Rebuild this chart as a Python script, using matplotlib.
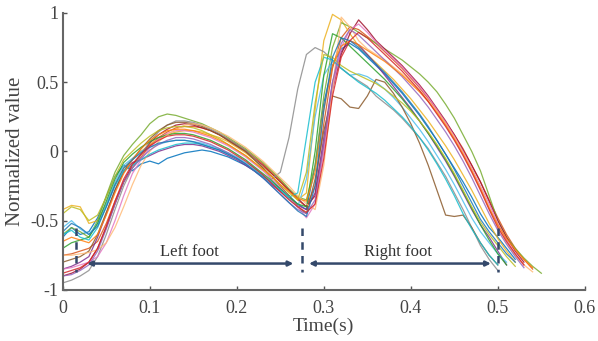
import numpy as np
import matplotlib
matplotlib.use("Agg")
import matplotlib.pyplot as plt

plt.rcParams['font.family'] = ['Liberation Serif', 'DejaVu Serif']
plt.rcParams['axes.unicode_minus'] = False

# sampling grid of the recorded curves (s)
time_grid = np.round(np.arange(0, 0.56, 0.01), 2)

# normalized curves, one list per trial (value at each 0.01 s step)
trial_01 = [-0.62,-0.55,-0.60,-0.58, -0.48,-0.33,-0.18,-0.10,-0.14,
            -0.09,-0.07,-0.09,-0.05,-0.03,-0.01,0.00,0.01,0.00,-0.02,-0.04,-0.07,
            -0.10,-0.14,-0.18,-0.22,-0.27,-0.32,-0.38,-0.42,
            -0.10,0.35,0.62,0.74,0.78,0.74,0.68,
            0.62,0.56,0.49,0.42,0.34,0.26,0.17,0.08,-0.02,-0.12,-0.22,-0.33,-0.45,-0.55,-0.62,-0.70,-0.78]
trial_02 = [-0.75,-0.74,-0.72,-0.70, -0.65,-0.52,-0.36,-0.22,-0.12,
            -0.04,0.04,0.10,0.14,0.17,0.18,0.18,0.17,0.15,0.12,0.09,0.05,
            0.01,-0.04,-0.09,-0.15,-0.21,-0.28,-0.35,-0.40,
            -0.25,0.20,0.60,0.82,0.90,0.88,0.83,
            0.78,0.72,0.66,0.60,0.53,0.46,0.38,0.30,0.21,0.12,0.02,-0.10,-0.22,-0.35,-0.48,-0.60,-0.70,-0.78,-0.85]
trial_03 = [-0.42,-0.39,-0.40,-0.52, -0.50,-0.38,-0.24,-0.12,-0.06,
            0.00,0.05,0.09,0.12,0.14,0.15,0.15,0.14,0.12,0.10,0.07,0.03,
            -0.01,-0.06,-0.11,-0.16,-0.22,-0.28,-0.35,-0.30,
            0.30,0.80,0.99,0.95,0.85,0.76,0.70,
            0.64,0.58,0.52,0.45,0.38,0.30,0.22,0.13,0.04,-0.06,-0.17,-0.28,-0.40,-0.52,-0.63,-0.72,-0.80]
trial_04 = [-0.85,-0.83,-0.80,-0.76, -0.62,-0.45,-0.28,-0.15,-0.08,
            -0.06,-0.03,0.00,0.02,0.04,0.05,0.05,0.04,0.02,0.00,-0.03,-0.06,
            -0.10,-0.14,-0.19,-0.24,-0.29,-0.34,-0.39,-0.42,
            -0.30,0.10,0.50,0.72,0.80,0.77,0.70,
            0.63,0.55,0.47,0.39,0.31,0.22,0.13,0.03,-0.07,-0.18,-0.30,-0.42,-0.53,-0.62,-0.72,-0.82]
trial_05 = [-0.60,-0.55,-0.58,-0.62, -0.50,-0.32,-0.15,-0.03,0.05,
            0.12,0.20,0.25,0.27,0.26,0.24,0.22,0.20,0.17,0.14,0.10,0.06,
            0.02,-0.03,-0.08,-0.14,-0.20,-0.27,-0.33,-0.35,
            -0.10,0.40,0.75,0.93,0.90,0.86,0.82,
            0.78,0.74,0.70,0.66,0.61,0.56,0.50,0.43,0.34,0.24,0.12,0.00,-0.14,-0.32,-0.50,-0.62,-0.70,-0.77,-0.83,-0.88]
trial_06 = [-0.55,-0.50,-0.56,-0.60, -0.52,-0.38,-0.22,-0.10,-0.05,
            0.00,0.03,0.05,0.07,0.08,0.08,0.07,0.06,0.04,0.02,-0.01,-0.04,
            -0.08,-0.12,-0.17,-0.22,-0.28,-0.34,-0.40,-0.20,
            0.25,0.55,0.65,0.60,0.55,0.56,0.54,
            0.50,0.45,0.39,0.32,0.24,0.16,0.07,-0.03,-0.13,-0.24,-0.36,-0.48,-0.58,-0.66,-0.74,-0.80]
trial_07 = [-0.90,-0.88,-0.85,-0.80, -0.70,-0.55,-0.38,-0.22,-0.10,
            -0.02,0.06,0.12,0.16,0.19,0.20,0.19,0.17,0.15,0.12,0.08,0.04,
            0.00,-0.05,-0.10,-0.16,-0.22,-0.28,-0.34,-0.40,
            -0.32,0.05,0.45,0.70,0.85,0.95,0.88,
            0.80,0.74,0.68,0.62,0.55,0.48,0.40,0.31,0.22,0.12,0.01,-0.10,-0.22,-0.36,-0.50,-0.62,-0.72,-0.80]
trial_08 = [-0.95,-0.93,-0.90,-0.86, -0.76,-0.60,-0.42,-0.25,-0.12,
            -0.02,0.07,0.14,0.19,0.22,0.22,0.21,0.19,0.16,0.13,0.09,0.05,
            0.01,-0.05,-0.12,-0.20,-0.15,0.10,0.45,0.70,
            0.75,0.72,0.66,0.60,0.55,0.51,0.47,
            0.40,0.35,0.30,0.24,0.17,0.10,0.02,-0.08,-0.18,-0.30,-0.42,-0.55,-0.68,-0.78,-0.86]
trial_09 = [-0.80,-0.78,-0.76,-0.72, -0.60,-0.44,-0.28,-0.14,-0.06,
            0.02,0.09,0.15,0.19,0.21,0.21,0.20,0.18,0.15,0.12,0.08,0.04,
            0.00,-0.06,-0.12,-0.18,-0.25,-0.32,-0.40,-0.45,
            -0.20,0.15,0.40,0.38,0.32,0.31,0.40,
            0.52,0.50,0.42,0.32,0.20,0.06,-0.10,-0.28,-0.46,-0.47,-0.46,-0.55,-0.66,-0.75,-0.82]
trial_10 = [-0.85,-0.84,-0.82,-0.80, -0.76,-0.66,-0.50,-0.32,-0.16,
            -0.06,0.03,0.09,0.13,0.15,0.15,0.14,0.12,0.10,0.07,0.04,0.00,
            -0.04,-0.09,-0.14,-0.20,-0.26,-0.33,-0.40,-0.48,
            -0.38,0.00,0.45,0.75,0.88,0.92,0.86,
            0.79,0.73,0.67,0.61,0.54,0.47,0.39,0.30,0.21,0.11,0.00,-0.12,-0.25,-0.38,-0.52,-0.64,-0.74,-0.82]
trial_11 = [-0.70,-0.66,-0.64,-0.62, -0.52,-0.36,-0.20,-0.08,-0.02,
            0.03,0.07,0.10,0.12,0.13,0.13,0.12,0.10,0.08,0.05,0.02,-0.02,
            -0.06,-0.11,-0.16,-0.21,-0.27,-0.33,-0.38,-0.40,
            0.00,0.55,0.85,0.82,0.76,0.70,0.64,
            0.58,0.52,0.45,0.38,0.30,0.22,0.13,0.04,-0.06,-0.17,-0.29,-0.41,-0.53,-0.64,-0.74,-0.82]
trial_12 = [-0.75,-0.75,-0.74,-0.73, -0.71,-0.66,-0.55,-0.40,-0.24,
            -0.10,0.00,0.07,0.12,0.16,0.19,0.20,0.19,0.17,0.14,0.11,0.07,
            0.03,-0.02,-0.07,-0.13,-0.19,-0.25,-0.32,-0.38,
            -0.42,-0.10,0.45,0.97,0.90,0.80,0.74,
            0.70,0.66,0.61,0.56,0.50,0.44,0.37,0.29,0.20,0.10,-0.01,-0.13,-0.26,-0.40,-0.54,-0.66,-0.75,-0.82,-0.87]
trial_13 = [-0.60,-0.57,-0.62,-0.64, -0.55,-0.40,-0.25,-0.14,-0.10,
            -0.06,-0.02,0.01,0.03,0.05,0.06,0.06,0.05,0.03,0.01,-0.02,-0.05,
            -0.09,-0.13,-0.18,-0.23,-0.28,-0.33,-0.30,0.10,
            0.50,0.68,0.66,0.60,0.55,0.50,0.46,
            0.42,0.37,0.31,0.25,0.18,0.10,0.01,-0.09,-0.20,-0.32,-0.45,-0.56,-0.66,-0.75,-0.82]
trial_14 = [-0.45,-0.40,-0.42,-0.50, -0.46,-0.33,-0.18,-0.06,0.00,
            0.06,0.11,0.15,0.17,0.18,0.18,0.17,0.15,0.12,0.09,0.05,0.01,
            -0.03,-0.08,-0.13,-0.18,-0.24,-0.30,-0.35,-0.15,
            0.35,0.70,0.68,0.62,0.58,0.55,0.52,
            0.49,0.45,0.40,0.35,0.29,0.22,0.14,0.05,-0.05,-0.16,-0.28,-0.40,-0.51,-0.60,-0.68,-0.76,-0.83]
trial_15 = [-0.90,-0.89,-0.86,-0.82, -0.72,-0.56,-0.38,-0.22,-0.12,
            -0.05,0.01,0.05,0.08,0.10,0.10,0.09,0.07,0.05,0.02,-0.01,-0.05,
            -0.09,-0.14,-0.19,-0.25,-0.31,-0.37,-0.42,-0.45,
            -0.35,0.05,0.50,0.78,0.88,0.84,0.78,
            0.72,0.66,0.60,0.54,0.47,0.40,0.32,0.23,0.14,0.04,-0.07,-0.19,-0.32,-0.45,-0.57,-0.67,-0.76,-0.84]
trial_16 = [-0.65,-0.62,-0.64,-0.66, -0.60,-0.46,-0.30,-0.16,-0.06,
            0.02,0.08,0.12,0.15,0.16,0.16,0.15,0.13,0.11,0.08,0.05,0.01,
            -0.03,-0.08,-0.13,-0.18,-0.24,-0.29,-0.34,-0.36,
            -0.15,0.30,0.62,0.76,0.80,0.77,0.73,
            0.69,0.65,0.60,0.55,0.49,0.43,0.36,0.28,0.19,0.09,-0.02,-0.14,-0.27,-0.41,-0.53,-0.63,-0.71,-0.78,-0.84]
trial_17 = [-0.58,-0.52,-0.55,-0.60, -0.54,-0.40,-0.24,-0.12,-0.06,
            -0.01,0.03,0.06,0.07,0.08,0.08,0.07,0.05,0.03,0.01,-0.02,-0.05,
            -0.09,-0.14,-0.19,-0.25,-0.31,-0.37,-0.43,-0.47,
            -0.25,0.30,0.68,0.82,0.80,0.75,0.69,
            0.63,0.57,0.50,0.43,0.35,0.27,0.18,0.08,-0.02,-0.13,-0.25,-0.37,-0.49,-0.58,-0.66,-0.74,-0.80]
trial_18 = [-0.88,-0.86,-0.84,-0.80, -0.70,-0.54,-0.36,-0.20,-0.09,
            -0.02,0.04,0.08,0.11,0.12,0.12,0.11,0.09,0.07,0.04,0.01,-0.03,
            -0.07,-0.12,-0.17,-0.23,-0.29,-0.35,-0.40,-0.44,
            -0.38,-0.05,0.40,0.68,0.80,0.86,0.82,
            0.76,0.70,0.64,0.58,0.51,0.44,0.36,0.27,0.18,0.08,-0.03,-0.15,-0.28,-0.42,-0.55,-0.65,-0.74,-0.82]

trials = [trial_01, trial_02, trial_03, trial_04, trial_05, trial_06,
          trial_07, trial_08, trial_09, trial_10, trial_11, trial_12,
          trial_13, trial_14, trial_15, trial_16, trial_17, trial_18]

colors = ['#0072BD', '#D95319', '#EDB120', '#7E2F8E', '#77AC30', '#4DBEEE',
          '#A2142F', '#8C8C8C', '#8B5A2B', '#E377C2', '#2CA02C', '#FFBB78',
          '#17BECF', '#BCBD22', '#9467BD', '#FF7F0E', '#1F77B4', '#D62728']

# phase annotations
left_span = (0.028, 0.265)
right_span = (0.283, 0.492)
arrow_level = -0.81
boundaries = [0.015, 0.275, 0.50]
boundary_range = (-0.55, -0.87)
phase_labels = ["Left foot", "Right foot"]
phase_label_x = [0.145, 0.385]
phase_label_y = -0.73

x_ticks = [0, 0.1, 0.2, 0.3, 0.4, 0.5, 0.6]
x_ticklabels = ["0", "0.1", "0.2", "0.3", "0.4", "0.5", "0.6"]
y_ticks = [-1, -0.5, 0, 0.5, 1]
y_ticklabels = ["-1", "-0.5", "0", "0.5", "1"]

fig = plt.figure(figsize=(5.98, 3.41), dpi=100)
ax = fig.add_axes([0.105, 0.150, 0.873, 0.812])

for vals, c in zip(trials, colors):
    ax.plot(time_grid[:len(vals)], vals, color=c, lw=0.9, alpha=0.85)

ann_color = '#34496b'
for bx in boundaries:
    ax.plot([bx, bx], boundary_range, color=ann_color, lw=1.8,
            dashes=(3, 2.5), zorder=5)
for (x0, x1) in (left_span, right_span):
    ax.annotate('', xy=(x0, arrow_level), xytext=(x1, arrow_level),
                arrowprops=dict(arrowstyle='<|-|>', color=ann_color, lw=1.8,
                                mutation_scale=7, shrinkA=0, shrinkB=0),
                zorder=6)
for lbl, lx in zip(phase_labels, phase_label_x):
    ax.text(lx, phase_label_y, lbl, ha='center', va='center',
            fontsize=12, color='#333333')

ax.set_xlim(0, 0.6)
ax.set_ylim(-1, 1)
ax.set_xticks(x_ticks)
ax.set_xticklabels(x_ticklabels)
ax.set_yticks(y_ticks)
ax.set_yticklabels(y_ticklabels)
ax.tick_params(direction='in', length=3, width=1, colors='#555555',
               labelcolor='#444444', labelsize=13, pad=3)
ax.tick_params(axis='x', pad=7)
for s in ('top', 'right'):
    ax.spines[s].set_visible(False)
for s in ('left', 'bottom'):
    ax.spines[s].set_color('#666666')
    ax.spines[s].set_linewidth(1.5)
ax.set_xlabel('Time(s)', fontsize=14, color='#444444', labelpad=1)
ax.set_ylabel('Normalized value', fontsize=15, color='#444444', labelpad=4)

fig.savefig('out.png', dpi=100)
